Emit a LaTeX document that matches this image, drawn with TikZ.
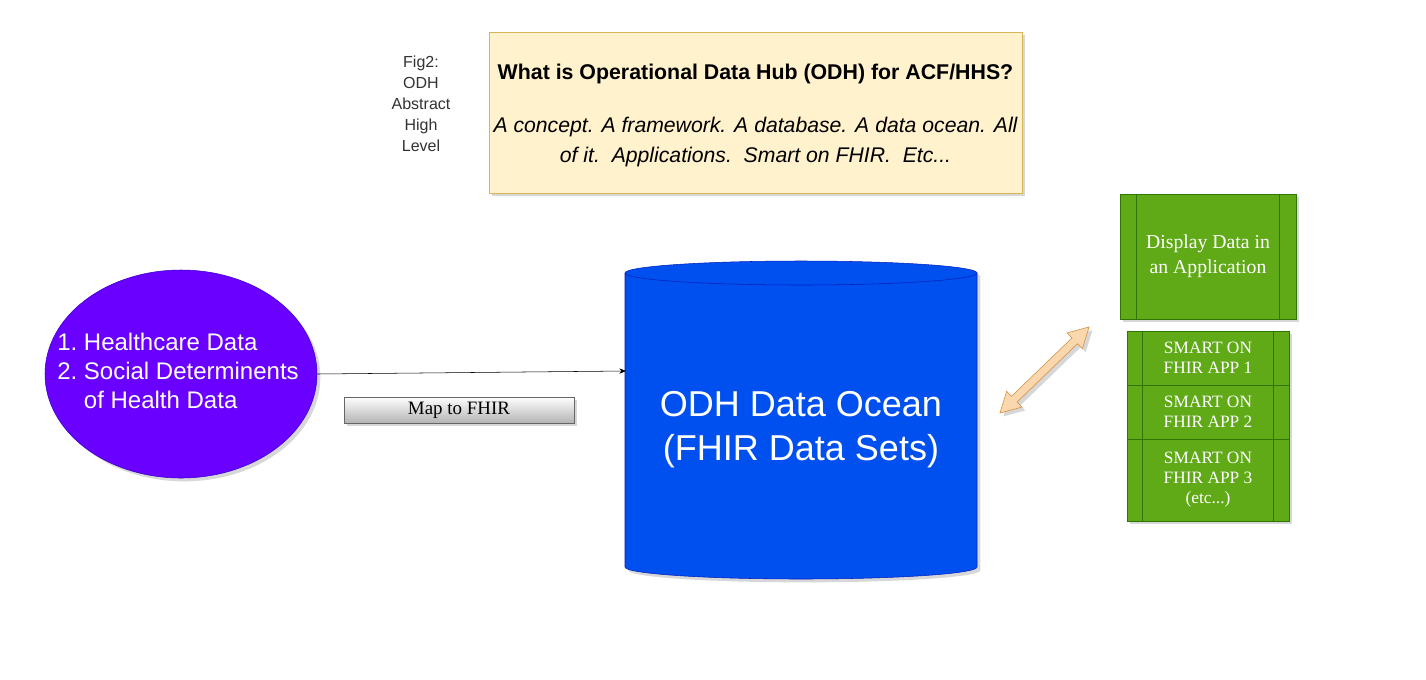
\documentclass[tikz,border=0pt]{standalone}
\usepackage{fontspec}
\setmainfont{Liberation Sans}
\newfontfamily\timesfont{Liberation Serif}
\usetikzlibrary{shapes.geometric,shadows,arrows.meta}

\definecolor{notefill}{HTML}{FFF2CC}
\definecolor{notedraw}{HTML}{D6B656}
\definecolor{oceanfill}{HTML}{0050EF}
\definecolor{oceandraw}{HTML}{001DBC}
\definecolor{sourcefill}{HTML}{6A00FF}
\definecolor{sourcedraw}{HTML}{3700CC}
\definecolor{appfill}{HTML}{60A917}
\definecolor{appdraw}{HTML}{2D7600}
\definecolor{linkfill}{HTML}{FAD7AC}
\definecolor{linkdraw}{HTML}{D08B3C}
\definecolor{mapdraw}{HTML}{666666}
\definecolor{mapbottom}{HTML}{B3B3B3}

\begin{document}
\begin{tikzpicture}[x=0.75pt,y=-0.75pt,
  boxshadow/.style={drop shadow={shadow xshift=2.5pt,shadow yshift=-2.5pt,opacity=0.22,fill=black!70}},
  appbox/.style={rectangle,draw=appdraw,fill=appfill,boxshadow,text=white,align=center,
    inner sep=0pt,font=\timesfont\fontsize{13}{15}\selectfont}]
  \useasboundingbox (0,0) rectangle (1426,679);
  \fill[white] (0,0) rectangle (1426,679);
  %\draw[step=50,gray,very thin] (0,0) grid (1426,679);

  \node[draw=none,align=center,font=\fontsize{12}{15.75}\selectfont,text=black!80] (figlabel) at (421,104)
    {Fig2:\\ODH\\Abstract\\High\\Level};

  \node[rectangle,draw=notedraw,fill=notefill,boxshadow,minimum width=399.75pt,minimum height=120.75pt,inner sep=0pt]
    (note) at (755.5,112.5) {};
  \node[draw=none,font=\bfseries\fontsize{16}{18}\selectfont] (question) at (755.5,74)
    {What is Operational Data Hub (ODH) for ACF/HHS?};
  \node[draw=none,align=center,font=\itshape\fontsize{15.9}{22.5}\selectfont] (answer) at (755.5,142)
    {A concept. A framework. A database. A data ocean. All\\of it.\ \ Applications.\ \ Smart on FHIR.\ \ Etc...};

  % data ocean
  \path[fill=oceanfill,draw=oceandraw,boxshadow] (625,273) -- (625,567)
    arc[start angle=180,end angle=0,x radius=176,y radius=12] -- (977,273)
    arc[start angle=0,end angle=-180,x radius=176,y radius=12] -- cycle;
  \draw[oceandraw] (625,273) arc[start angle=180,end angle=0,x radius=176,y radius=12];
  \node[draw=none,align=center,text=white,font=\fontsize{27}{33}\selectfont] (ocean) at (801,430)
    {ODH Data Ocean\\(FHIR Data Sets)};
  \coordinate (oceanin) at (626,371);

  \node[ellipse,draw=sourcedraw,fill=sourcefill,boxshadow,minimum width=204pt,minimum height=156pt,inner sep=0pt]
    (source) at (181,374) {};
  \node[draw=none,text=white,inner sep=0pt,font=\fontsize{18}{21.75}\selectfont] (sourcelist) at (178,374)
    {\begin{tabular}{@{}l@{\ }l@{}}1.&Healthcare Data\\2.&Social Determinents\\&of Health Data\end{tabular}};

  \draw[-{Stealth[length=5pt,width=4pt]}] (source.east) -- (oceanin);

  \node[rectangle,draw=mapdraw,top color=white,bottom color=mapbottom,boxshadow,minimum width=172.5pt,
    minimum height=19.5pt,inner sep=0pt,font=\timesfont\fontsize{14.2}{16}\selectfont] (map) at (459,410) {Map to FHIR};

  % two way link
  \path[fill=linkfill,draw=linkdraw,boxshadow,shift={(1044.5,370)},rotate=44]
    (-62,0) -- (-42,-11) -- (-42,-4) -- (42,-4) -- (42,-11) -- (62,0)
    -- (42,11) -- (42,4) -- (-42,4) -- (-42,11) -- cycle;

  % apps
  \node[appbox,minimum width=132pt,minimum height=93.75pt,font=\timesfont\fontsize{14.8}{18.75}\selectfont]
    (display) at (1208,256.5) {Display Data in\\an Application};
  \draw[appdraw] ([xshift=12.75pt]display.north west) -- ([xshift=12.75pt]display.south west);
  \draw[appdraw] ([xshift=-12.75pt]display.north east) -- ([xshift=-12.75pt]display.south east);

  \node[appbox,minimum width=121.5pt,minimum height=40.5pt] (app1) at (1208,358) {SMART ON\\FHIR APP 1};
  \node[appbox,minimum width=121.5pt,minimum height=40.5pt] (app2) at (1208,412) {SMART ON\\FHIR APP 2};
  \node[appbox,minimum width=121.5pt,minimum height=61.5pt] (app3) at (1208,480) {SMART ON\\FHIR APP 3\\(etc...)};
  \draw[appdraw] ([xshift=12pt]app1.north west) -- ([xshift=12pt]app3.south west);
  \draw[appdraw] ([xshift=-12pt]app1.north east) -- ([xshift=-12pt]app3.south east);
\end{tikzpicture}
\end{document}
